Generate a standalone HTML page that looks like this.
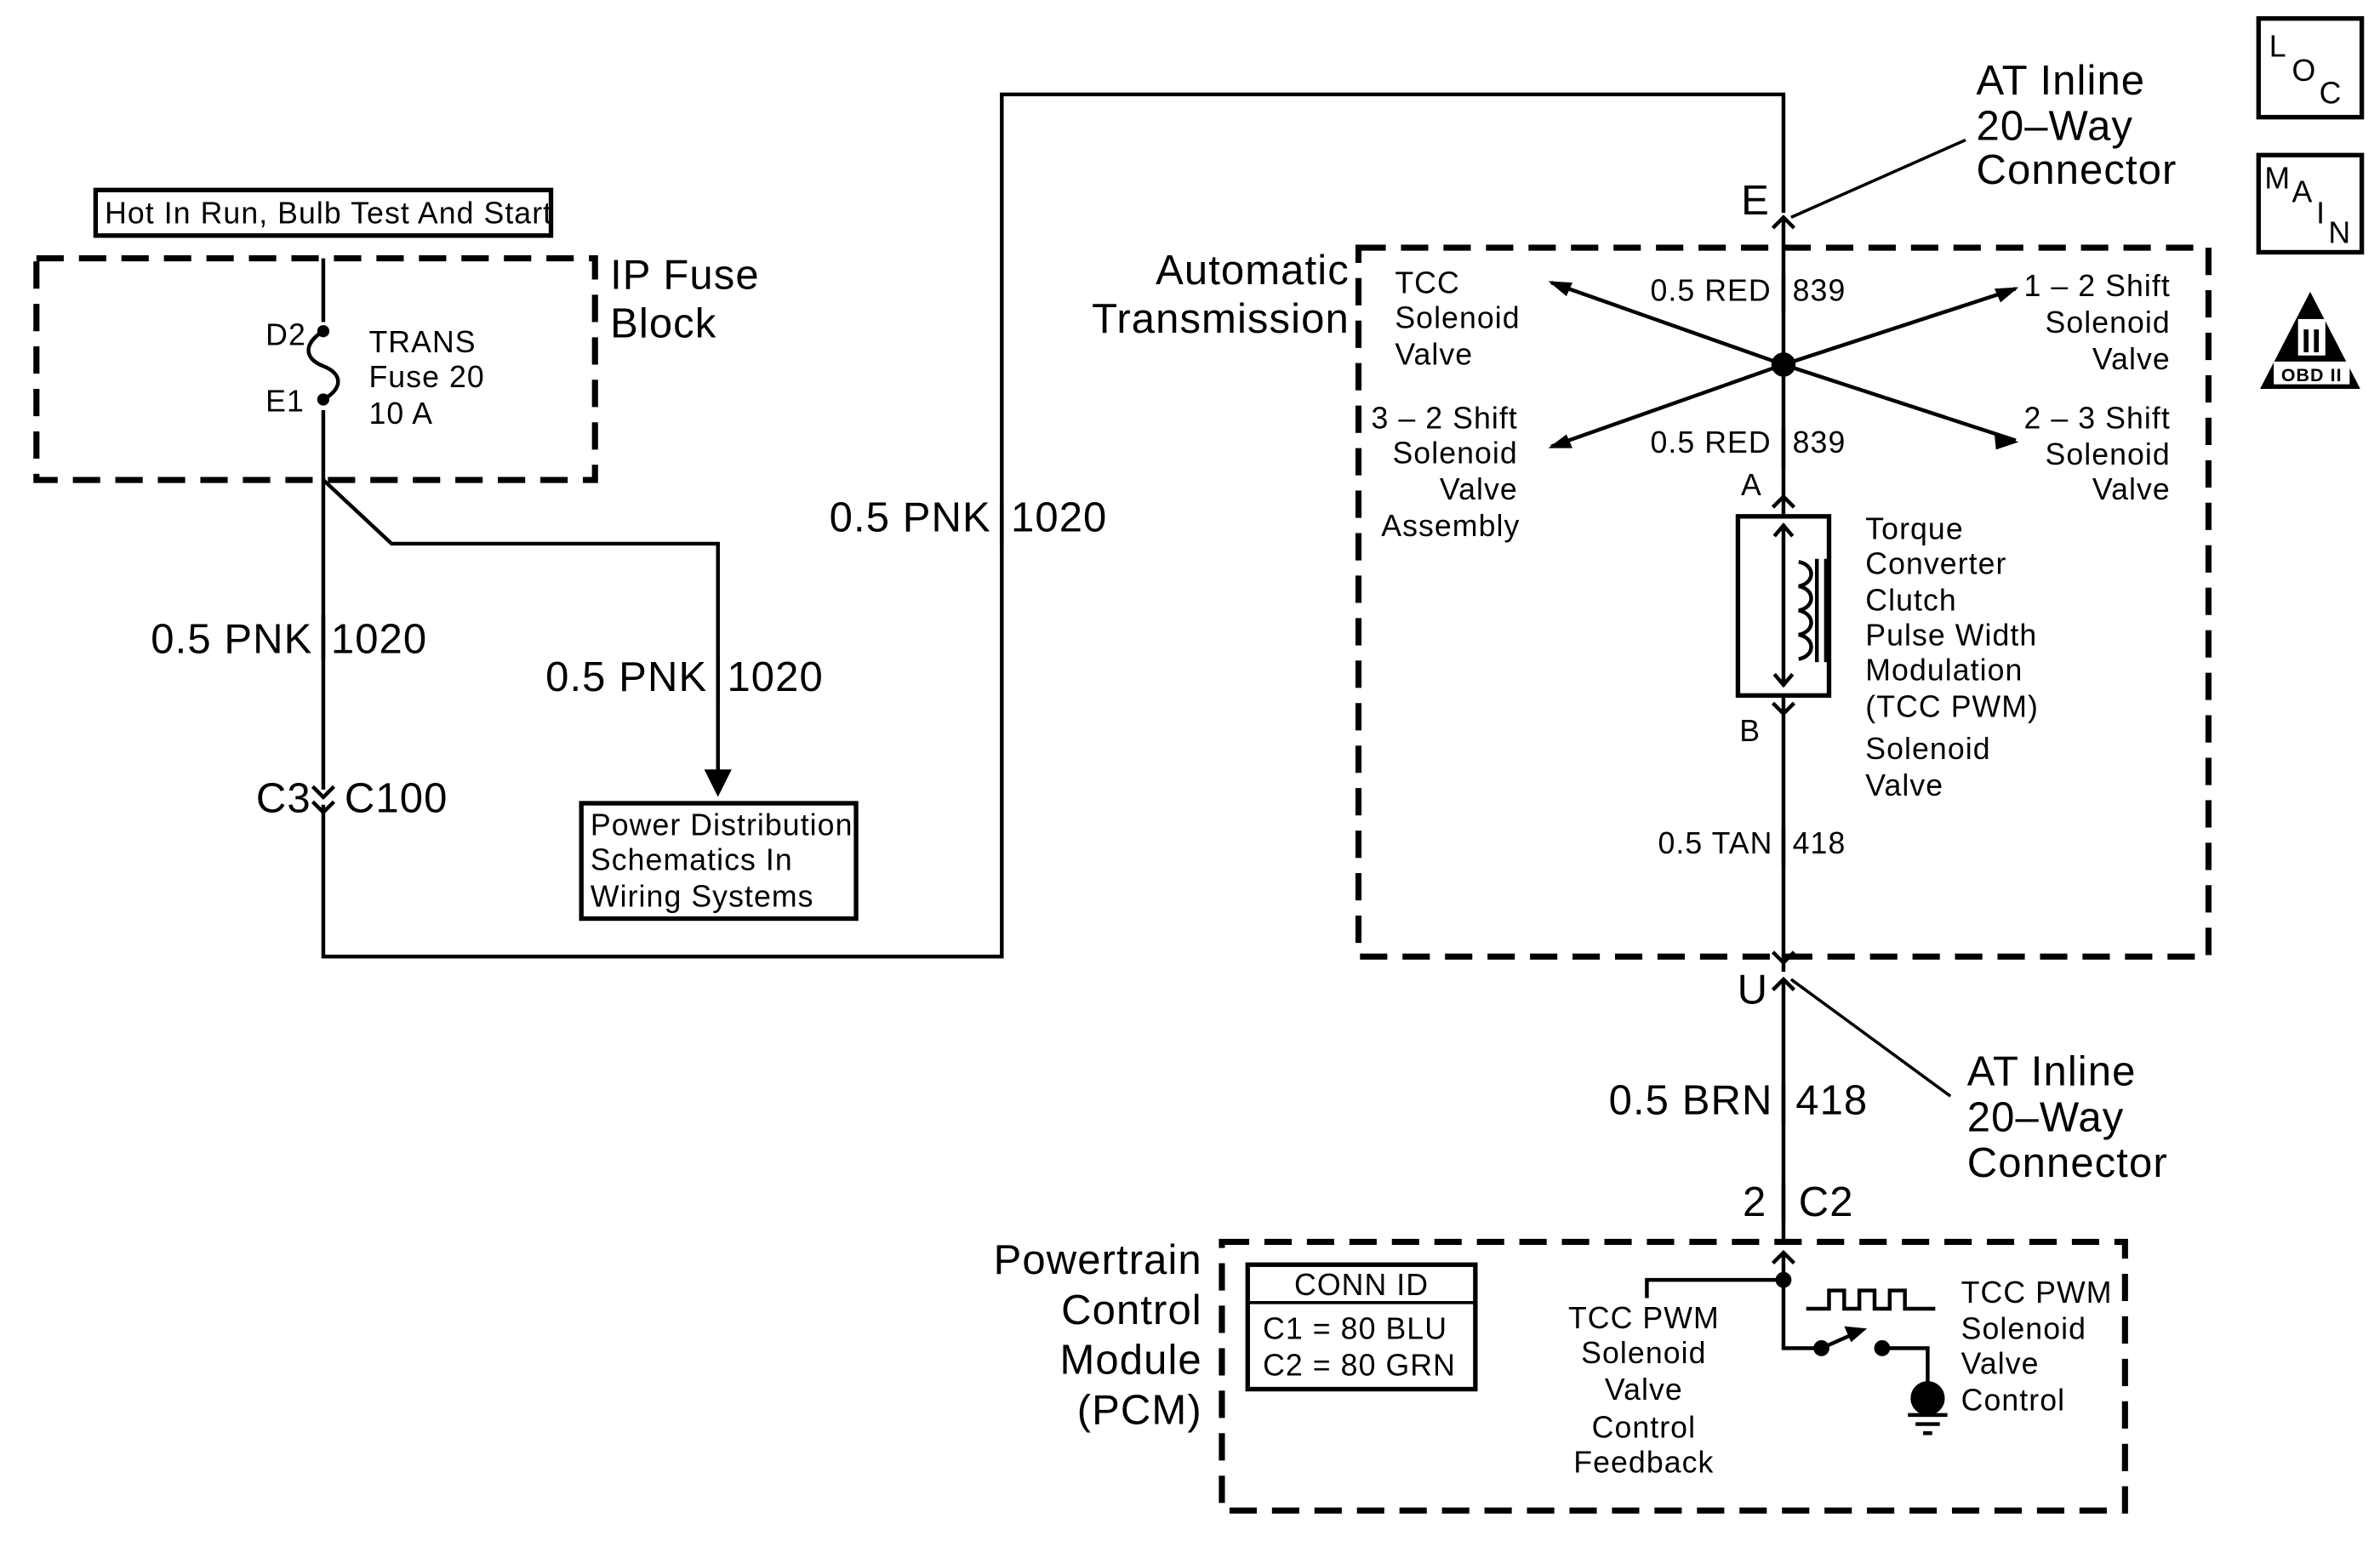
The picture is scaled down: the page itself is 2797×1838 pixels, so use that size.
<!DOCTYPE html>
<html><head><meta charset="utf-8"><style>
html,body{margin:0;padding:0;background:#fff;}
svg{display:block;}
text{font-family:"Liberation Sans",Arial,sans-serif;fill:#000;letter-spacing:0.6px;}
</style></head><body>
<svg width="2797" height="1838" viewBox="0 0 1568 1030" xmlns="http://www.w3.org/2000/svg">
<g fill="none" stroke="#000" stroke-width="2.5">
<rect x="63" y="125" width="300" height="30" stroke-width="3"/>
<rect x="24" y="170" width="368" height="146" stroke-width="4" stroke-dasharray="18,10"/>
<path d="M213,170 V212 M213,270 V520 M213,530 V630 H660 V62 H1175 V140"/>
<path d="M213,218 C200,226 200,236 213,241 C226,246 226,256 213,263"/>
<path d="M213,316 L258,358 H473 V515"/>
<path d="M466,508 L473,522 L480,508 Z" fill="#000"/>
<rect x="383" y="529" width="181" height="76" stroke-width="3"/>
<path d="M660,330 V360 M213,405 V435 M473,432 V462"/>
<path d="M206,518 L213,525 L220,518 M206,528 L213,535 L220,528"/>
<path d="M1168,150 L1175,143 L1182,150 M1175,143 V330"/>
<path d="M1180,143 L1295,92" stroke-width="2"/>
<rect x="895" y="163" width="560" height="467" stroke-width="4" stroke-dasharray="18,10"/>
<path d="M1175,240 L1022,186 M1175,240 L1328,190 M1175,240 L1022,294 M1175,240 L1328,290"/>
<path d="M1020,185 l16,1 l-4,9 z M1330,189 l-16,1 l4,9 z M1020,295 l12,-9 l4,9 z M1330,291 l-16,-5 l1,10 z" fill="#000" stroke="none"/>
<path d="M1175,180 V205 M1175,282 V308"/>
<path d="M1168,334 L1175,327 L1182,334"/>
<path d="M1175,327 V340"/>
<rect x="1145" y="340" width="60" height="118" stroke-width="3"/>
<path d="M1175,345 V452 M1169,353 L1175,346 L1181,353 M1169,444 L1175,451 L1181,444"/>
<path d="M1185,370 C1196,372 1196,384 1185,386 C1196,388 1196,400 1185,402 C1196,404 1196,416 1185,418 C1196,420 1196,432 1185,434"/>
<path d="M1197,368 V436 M1203,368 V436"/>
<path d="M1175,458 V470 M1168,463 L1175,470 L1182,463 M1175,470 V640"/>
<path d="M1175,545 V570 M1175,713 V740 M1175,780 V805"/>
<path d="M1168,627 L1175,634 L1182,627"/>
<path d="M1168,652 L1175,645 L1182,652 M1175,645 V820"/>
<path d="M1180,645 L1285,722" stroke-width="2"/>
<rect x="805" y="818" width="595" height="177" stroke-width="4" stroke-dasharray="18,10"/>
<path d="M1168,832 L1175,825 L1182,832 M1175,825 V888 H1200"/>
<path d="M1085,855 V843 H1175"/>
<circle cx="1175" cy="843" r="4" fill="#000"/>
<circle cx="1200" cy="888" r="4" fill="#000"/>
<circle cx="1240" cy="888" r="4" fill="#000"/>
<path d="M1200,888 L1225,877"/>
<path d="M1227,876 l-10,-1 l3,7 z" fill="#000"/>
<path d="M1240,888 H1270 V912"/>
<ellipse cx="1270" cy="921" rx="10" ry="10" fill="#000"/>
<path d="M1257,932 H1283 M1262,938 H1278 M1267,944 H1273"/>
<path d="M1190,862 H1205 V850 H1215 V862 H1225 V850 H1235 V862 H1245 V850 H1255 V862 H1275"/>
<rect x="822" y="833" width="150" height="82" stroke-width="3"/>
<path d="M822,858 H972" stroke-width="2"/>
<rect x="1488" y="12" width="68" height="65" stroke-width="3"/>
<rect x="1488" y="102" width="68" height="64" stroke-width="3"/>
</g>
<circle cx="213" cy="218" r="4"/>
<circle cx="213" cy="263" r="4"/>
<circle cx="1175" cy="240" r="8"/>
<path d="M1522,192 L1555,256 H1489 Z"/>
<rect x="1498" y="238" width="50" height="15" fill="#fff"/>
<rect x="1514" y="210" width="18" height="24" fill="#fff"/>
<text x="1523" y="232" font-size="22" font-weight="bold" text-anchor="middle" font-family="Liberation Serif">II</text>
<text x="1523" y="251" font-size="12" font-weight="bold" text-anchor="middle">OBD II</text>
<g font-size="20">
<text x="1495" y="37">L</text><text x="1510" y="53">O</text><text x="1528" y="68">C</text>
<text x="1492" y="124">M</text><text x="1510" y="133">A</text><text x="1526" y="147">I</text><text x="1534" y="160">N</text>
</g>
<g font-size="20">
<text x="69" y="147">Hot In Run, Bulb Test And Start</text>
<text x="175" y="227">D2</text><text x="175" y="271">E1</text>
<text x="243" y="232">TRANS</text><text x="243" y="255">Fuse 20</text><text x="243" y="279">10 A</text>
<text x="389" y="550">Power Distribution</text><text x="389" y="573">Schematics In</text><text x="389" y="597">Wiring Systems</text>
<text x="919" y="193">TCC</text><text x="919" y="216">Solenoid</text><text x="919" y="240">Valve</text>
<text x="1000" y="282" text-anchor="end">3 – 2 Shift</text><text x="1000" y="305" text-anchor="end">Solenoid</text><text x="1000" y="329" text-anchor="end">Valve</text><text x="910" y="353">Assembly</text>
<text x="1430" y="195" text-anchor="end">1 – 2 Shift</text><text x="1430" y="219" text-anchor="end">Solenoid</text><text x="1430" y="243" text-anchor="end">Valve</text>
<text x="1430" y="282" text-anchor="end">2 – 3 Shift</text><text x="1430" y="306" text-anchor="end">Solenoid</text><text x="1430" y="329" text-anchor="end">Valve</text>
<text x="1167" y="198" text-anchor="end">0.5 RED</text><text x="1181" y="198">839</text>
<text x="1167" y="298" text-anchor="end">0.5 RED</text><text x="1181" y="298">839</text>
<text x="1147" y="326">A</text><text x="1146" y="488">B</text>
<text x="1229" y="355">Torque</text><text x="1229" y="378">Converter</text><text x="1229" y="402">Clutch</text><text x="1229" y="425">Pulse Width</text><text x="1229" y="448">Modulation</text><text x="1229" y="472">(TCC PWM)</text><text x="1229" y="500">Solenoid</text><text x="1229" y="524">Valve</text>
<text x="1168" y="562" text-anchor="end">0.5 TAN</text><text x="1181" y="562">418</text>
<text x="897" y="853" text-anchor="middle">CONN ID</text>
<text x="832" y="882">C1 = 80 BLU</text><text x="832" y="906">C2 = 80 GRN</text>
<g text-anchor="middle"><text x="1083" y="875">TCC PWM</text><text x="1083" y="898">Solenoid</text><text x="1083" y="922">Valve</text><text x="1083" y="947">Control</text><text x="1083" y="970">Feedback</text></g>
<text x="1292" y="858">TCC PWM</text><text x="1292" y="882">Solenoid</text><text x="1292" y="905">Valve</text><text x="1292" y="929">Control</text>
</g>
<g font-size="27.5">
<text x="402" y="190">IP Fuse</text><text x="402" y="222">Block</text>
<text x="206" y="430" text-anchor="end">0.5 PNK</text><text x="218" y="430">1020</text>
<text x="466" y="455" text-anchor="end">0.5 PNK</text><text x="479" y="455">1020</text>
<text x="653" y="350" text-anchor="end">0.5 PNK</text><text x="666" y="350">1020</text>
<text x="205" y="535" text-anchor="end">C3</text><text x="227" y="535">C100</text>
<text x="1302" y="62">AT Inline</text><text x="1302" y="92">20–Way</text><text x="1302" y="121">Connector</text>
<text x="1166" y="141" text-anchor="end">E</text>
<text x="889" y="187" text-anchor="end">Automatic</text><text x="889" y="219" text-anchor="end">Transmission</text>
<text x="1165" y="661" text-anchor="end">U</text>
<text x="1296" y="715">AT Inline</text><text x="1296" y="745">20–Way</text><text x="1296" y="775">Connector</text>
<text x="1168" y="734" text-anchor="end">0.5 BRN</text><text x="1183" y="734">418</text>
<text x="1164" y="801" text-anchor="end">2</text><text x="1185" y="801">C2</text>
<text x="792" y="839" text-anchor="end">Powertrain</text><text x="792" y="872" text-anchor="end">Control</text><text x="792" y="905" text-anchor="end">Module</text><text x="792" y="938" text-anchor="end">(PCM)</text>
</g>
</svg>
</body></html>
